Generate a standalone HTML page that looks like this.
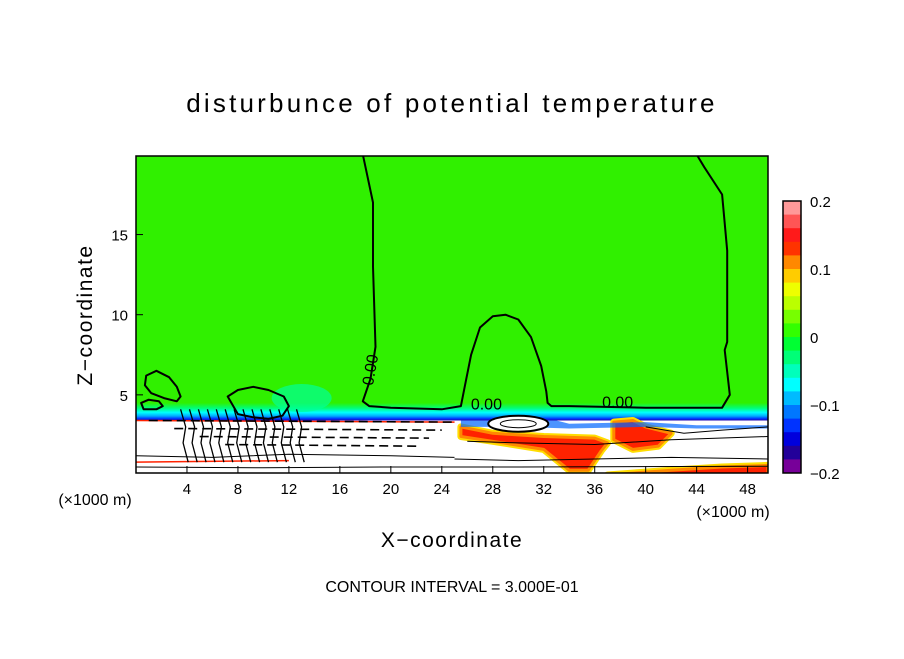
<!DOCTYPE html>
<html><head><meta charset="utf-8"><style>
body{margin:0;background:#fff;}
svg text{font-family:"Liberation Sans",sans-serif;fill:#000;}
</style></head><body>
<svg id="chart" width="904" height="654" viewBox="0 0 904 654" xmlns="http://www.w3.org/2000/svg">
<defs>
<linearGradient id="band" x1="0" y1="0" x2="0" y2="1">
<stop offset="0" stop-color="#30f000"/><stop offset="0.3" stop-color="#00ff77"/><stop offset="0.55" stop-color="#00ffff"/><stop offset="0.75" stop-color="#00aaff"/><stop offset="0.9" stop-color="#0033ff"/><stop offset="1" stop-color="#2200aa"/>
</linearGradient>
<clipPath id="plotclip"><rect x="136" y="156" width="632" height="317"/></clipPath>
</defs>
<text x="452" y="112" text-anchor="middle" font-size="26" letter-spacing="3.2">disturbunce of potential temperature</text>
<g id="plot" clip-path="url(#plotclip)"></g>
<rect x="136" y="156" width="632" height="317" fill="none" stroke="#000" stroke-width="1.5"/>
<g id="axes"></g>
<g id="cbar"></g>
<text x="95" y="505" text-anchor="middle" font-size="16">(×1000 m)</text>
<text x="733" y="517" text-anchor="middle" font-size="16">(×1000 m)</text>
<text x="452" y="547" text-anchor="middle" font-size="21" letter-spacing="1.5">X−coordinate</text>
<text transform="translate(92,315) rotate(-90)" text-anchor="middle" font-size="21" letter-spacing="1.5">Z−coordinate</text>
<text x="452" y="592" text-anchor="middle" font-size="16">CONTOUR INTERVAL = 3.000E-01</text>
</svg>
<script>
const xTicks=[4,8,12,16,20,24,28,32,36,40,44,48];
const zTicks=[5,10,15];
const cbarLevels=[0.2,0.18,0.16,0.14,0.12,0.1,0.08,0.06,0.04,0.02,0,-0.02,-0.04,-0.06,-0.08,-0.1,-0.12,-0.14,-0.16,-0.18,-0.2];
const cbarColors=["#ff9999","#ff5555","#ff1a1a","#ff3300","#ff8800","#ffcc00","#eeff00","#bbff00","#77ff00","#33ff00","#00ff33","#00ff77","#00ffbb","#00ffff","#00bbff","#0077ff","#0033ff","#0000dd","#220099","#770099"];
const cbarLabels=[0.2,0.1,0,-0.1,-0.2];
const zeroContourX=[17.8,18.6,18.6,18.8,18.4,17.8,18.3,20,24,25.5,25.8,26.3,27,28,29,30,31,31.8,32.2,32.3,32.6,34,40,46,46.6,46.2,46.4,46.4,46.0,44.6,44.0];
const zeroContourZ=[20,17,13,8,6,4.6,4.3,4.2,4.1,4.3,5.5,7.5,9.2,9.9,10,9.7,8.6,6.8,5.2,4.5,4.3,4.3,4.2,4.2,5,7.8,8.3,14,17.5,19.2,20];
const blobAX=[0.8,1.6,2.6,3.2,3.5,3.2,2.2,1.2,0.7,0.8];
const blobAZ=[6.2,6.5,6.1,5.5,4.9,4.6,4.8,5.1,5.6,6.2];
const blobBX=[0.4,1.0,1.8,2.1,1.6,0.6,0.4];
const blobBZ=[4.5,4.7,4.6,4.3,4.1,4.1,4.5];
const blobCX=[7.2,8.0,9.2,10.4,11.6,12.0,11.5,10.4,9.2,8.0,7.2];
const blobCZ=[4.9,5.3,5.5,5.3,4.9,4.3,3.7,3.5,3.6,3.8,4.9];
const dashZ=[3.4,2.9,2.4,1.9];
const zeroLabelX=[18.8,27.5,37.8];
const zeroLabelZ=[6.5,4.1,4.2];
const warmX=[25.5,28,32,36,37,36.5,35.5,34,32,28,25.5];
const warmZ=[3.0,2.6,2.4,2.3,2.0,1.5,0.3,0.3,1.6,2.1,2.4];
const warmBX=[37.5,39,40,42,41,39,37.5];
const warmBZ=[3.3,3.4,3.0,2.6,1.8,1.6,2.2];
const warmCX=[37,42,46,49.6,49.6,37];
const warmCZ=[0,0.3,0.5,0.6,0,0];

const NS='http://www.w3.org/2000/svg';
const X0=136,X1=768,Y0=156,Y1=473;
const XMAX=49.6,ZMAX=19.9;
function sx(x){return X0+x*(X1-X0)/XMAX;}
function sz(z){return Y1+2-z*(Y1-Y0+2)/ZMAX;}
function mk(tag,attrs,parent){const e=document.createElementNS(NS,tag);for(const k in attrs)e.setAttribute(k,attrs[k]);parent.appendChild(e);return e;}
function pathFrom(xs,zs,close){let d='';for(let i=0;i<xs.length;i++)d+=(i?'L':'M')+sx(xs[i]).toFixed(1)+','+sz(zs[i]).toFixed(1);return d+(close?'Z':'');}
const plot=document.getElementById('plot');
let e;
e=mk('rect',{x:X0,y:Y0,width:X1-X0,height:Y1-Y0,fill:'#30f000'},plot);


e=mk('rect',{x:X0,y:sz(4.5),width:X1-X0,height:sz(3.4)-sz(4.5),fill:'url(#band)'},plot);


e=mk('ellipse',{cx:sx(13),cy:sz(4.8),rx:30,ry:14,fill:'#00ff99',opacity:0.7},plot);


e=mk('rect',{x:X0,y:sz(3.4),width:X1-X0,height:Y1-sz(3.4),fill:'#fff'},plot);


[[warmX,warmZ,'warm-streak'],[warmBX,warmBZ,'warm-blob'],[warmCX,warmCZ,'warm-bottom']].forEach(w=>{
 let p=mk('path',{d:pathFrom(w[0],w[1],true),fill:'#ff8800',stroke:'#ffdd00','stroke-width':7,'stroke-linejoin':'round'},plot);
 
 
 p=mk('path',{d:pathFrom(w[0],w[1],true),fill:'#ff2200',stroke:'#ff8800','stroke-width':3,'stroke-linejoin':'round'},plot);
 
 
});
e=mk('path',{d:pathFrom([25.5,33,34,40,44,49.6,49.6,44,40,34,30,25.5],[3.4,3.4,3.2,3.3,3.1,3.1,2.9,2.9,3.0,2.9,3.0,3.0],true),fill:'#0066ff',opacity:0.7},plot);


e=mk('line',{x1:X0,y1:sz(3.4),x2:sx(25),y2:sz(3.3),stroke:'#ff2200','stroke-width':1.5},plot);


e=mk('line',{x1:X0,y1:sz(0.8),x2:sx(12),y2:sz(0.9),stroke:'#ff2200','stroke-width':1.5},plot);


const cg=mk('g',{fill:'none',stroke:'#000','stroke-width':2,'stroke-linejoin':'round'},plot);
e=mk('path',{d:pathFrom(zeroContourX,zeroContourZ,false)},cg);


[[blobAX,blobAZ,'contour-blob-a'],[blobBX,blobBZ,'contour-blob-b'],[blobCX,blobCZ,'contour-blob-c']].forEach(b=>{
 const p=mk('path',{d:pathFrom(b[0],b[1],true)},cg);
 
 
});
e=mk('ellipse',{cx:sx(30),cy:sz(3.2),rx:30,ry:8,fill:'#fff'},cg);


e=mk('ellipse',{cx:sx(30),cy:sz(3.2),rx:18,ry:4,'stroke-width':1},cg);


const dg=mk('g',{fill:'none',stroke:'#000','stroke-width':1.6,'stroke-dasharray':'9,5'},plot);
dashZ.forEach((z,i)=>{
 const l=mk('line',{x1:sx(1+i*2),y1:sz(z),x2:sx(25-i),y2:sz(z-0.1)},dg);
 
 
});
const tg=mk('g',{fill:'none',stroke:'#000','stroke-width':1},plot);
[[[26,30,36,42,49.6],[2.1,2.0,1.9,2.2,2.4]],[[25,30,36,42,49.6],[1.0,0.9,1.0,1.1,1.0]],[[0,6,12,20,25],[1.2,1.1,1.3,1.2,1.1]],[[0,10,20,30,49.6],[0.5,0.45,0.5,0.5,0.55]],[[40,43,46,49.6],[3.0,2.6,2.8,3.0]]].forEach(c=>{
 const p=mk('path',{d:pathFrom(c[0],c[1],false)},tg);
 
 
});
const hg=mk('g',{fill:'none',stroke:'#000','stroke-width':1.3},plot);
for(let k=0;k<14;k++){
 const x=3.5+k*0.7;
 const p=mk('path',{d:pathFrom([x,x+0.4,x+0.2,x+0.6],[4.1,3.0,2.0,0.8],false)},hg);
 
 
}
zeroLabelX.forEach((x,i)=>{
 const t=mk('text',{x:sx(x),y:sz(zeroLabelZ[i]),'font-size':16,'text-anchor':'middle',fill:'#000'},plot);
 if(i===0)t.setAttribute('transform','rotate(-80 '+sx(x)+' '+sz(zeroLabelZ[i])+')');
 t.textContent='0.00';
 
 
});
const ax=document.getElementById('axes');
xTicks.forEach(v=>{
 let l=mk('line',{x1:sx(v),y1:Y1,x2:sx(v),y2:Y1-7,stroke:'#000','stroke-width':1},ax);
 
 
 let t=mk('text',{x:sx(v),y:494,'font-size':15,'text-anchor':'middle'},ax);
 t.textContent=v;
 
 
});
zTicks.forEach(v=>{
 let l=mk('line',{x1:X0,y1:sz(v),x2:X0+7,y2:sz(v),stroke:'#000','stroke-width':1},ax);
 
 
 let t=mk('text',{x:128,y:sz(v)+6,'font-size':15,'text-anchor':'end'},ax);
 t.textContent=v;
 
 
});
const cb=document.getElementById('cbar');
const CBX=783,CBW=18,CBT=201,CBB=473;
const bh=(CBB-CBT)/cbarColors.length;
function cy(v){return CBT+(0.2-v)/0.4*(CBB-CBT);}
cbarColors.forEach((c,i)=>{
 const r=mk('rect',{x:CBX,y:cy(cbarLevels[i]),width:CBW,height:bh+0.5,fill:c},cb);
 
 
});
e=mk('rect',{x:CBX,y:CBT,width:CBW,height:CBB-CBT,fill:'none',stroke:'#000','stroke-width':1.5},cb);


cbarLabels.forEach(v=>{
 const t=mk('text',{x:810,y:cy(v)+6,'font-size':15},cb);
 t.textContent=v===0?'0':(v<0?'−'+Math.abs(v):String(v));
 
 
});
</script>
</body></html>
